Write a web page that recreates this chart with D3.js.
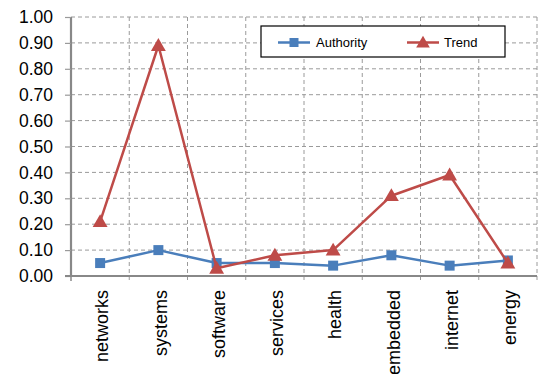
<!DOCTYPE html>
<html>
<head>
<meta charset="utf-8">
<script src="https://cdn.jsdelivr.net/npm/d3@7"></script>
<style>
  html, body { margin: 0; padding: 0; background: #fff; }
  svg { display: block; font-family: "Liberation Sans", Arial, sans-serif; }
</style>
</head>
<body>
<svg id="chart" width="540" height="374"></svg>
<script>
// Keyword categories along the x axis
const categories = ["networks", "systems", "software", "services", "health", "embedded", "internet", "energy"];
// Series values per category
const authority = [0.05, 0.10, 0.05, 0.05, 0.04, 0.08, 0.04, 0.06];
const trend     = [0.21, 0.89, 0.03, 0.08, 0.10, 0.31, 0.39, 0.05];
// Y-axis ticks
const yTicks = [0, 0.1, 0.2, 0.3, 0.4, 0.5, 0.6, 0.7, 0.8, 0.9, 1.0];

const series = [
  { name: "Authority", values: authority, color: "#4a7ebb", marker: "square" },
  { name: "Trend",     values: trend,     color: "#be4b48", marker: "triangle" }
];

const svg = d3.select("#chart");
const margin = { left: 71, right: 3, top: 17, bottom: 98 };
const W = 540, H = 374;

const x = d3.scaleBand().domain(categories).range([margin.left, W - margin.right]).padding(0);
const y = d3.scaleLinear().domain([0, 1]).range([H - margin.bottom, margin.top]);

const gridColor = "#9a9a9a";
const axisColor = "#888888";

// Horizontal dashed gridlines
svg.append("g")
  .selectAll("line")
  .data(yTicks.slice(1))
  .join("line")
  .attr("x1", margin.left).attr("x2", W - margin.right)
  .attr("y1", d => y(d)).attr("y2", d => y(d))
  .attr("stroke", gridColor).attr("stroke-width", 1)
  .attr("stroke-dasharray", "4,3");

// Vertical dashed gridlines at category boundaries
const bounds = categories.map(c => x(c) + x.bandwidth());
svg.append("g")
  .selectAll("line")
  .data(bounds)
  .join("line")
  .attr("x1", d => d).attr("x2", d => d)
  .attr("y1", y(1)).attr("y2", y(0) + 5)
  .attr("stroke", gridColor).attr("stroke-width", 1)
  .attr("stroke-dasharray", "4,3");

// Y axis
const yAxis = d3.axisLeft(y).tickValues(yTicks).tickFormat(d3.format(".2f")).tickSize(6).tickPadding(12);
const gy = svg.append("g").attr("transform", `translate(${margin.left},0)`).call(yAxis);
gy.select(".domain").attr("stroke", axisColor).attr("stroke-width", 2.2).attr("d", `M0,${y(0)}V${y(1)}`);
gy.selectAll(".tick line").attr("stroke", gridColor).attr("stroke-width", 1.2);
gy.selectAll(".tick text").attr("font-size", 17.5).attr("fill", "#000")
  .attr("font-family", "Liberation Sans, Arial, sans-serif");

// X axis with rotated category labels
const xAxis = d3.axisBottom(x).tickSize(0).tickPadding(0);
const gx = svg.append("g").attr("transform", `translate(0,${y(0)})`).call(xAxis);
gx.select(".domain").attr("stroke", axisColor).attr("stroke-width", 2.2)
  .attr("d", `M${margin.left - 6},0H${W - margin.right}`);
gx.selectAll(".tick text")
  .attr("font-size", 18).attr("fill", "#000")
  .attr("font-family", "Liberation Sans, Arial, sans-serif")
  .attr("text-anchor", "end")
  .attr("transform", "translate(2,14) rotate(-90)")
  .attr("x", 0).attr("y", 0).attr("dy", "0.35em");

// Tick at the origin of the x axis
svg.append("line")
  .attr("x1", margin.left).attr("x2", margin.left)
  .attr("y1", y(0)).attr("y2", y(0) + 5)
  .attr("stroke", axisColor).attr("stroke-width", 1.5);

const cx = c => x(c) + x.bandwidth() / 2;

function drawMarker(g, type, color, size) {
  if (type === "square") {
    g.append("rect").attr("x", -size / 2).attr("y", -size / 2)
      .attr("width", size).attr("height", size).attr("fill", color);
  } else {
    const s = size;
    g.append("path")
      .attr("d", `M0,${-s * 0.62}L${s * 0.62},${s * 0.45}L${-s * 0.62},${s * 0.45}Z`)
      .attr("fill", color);
  }
}

const line = d3.line().x((d, i) => cx(categories[i])).y(d => y(d));

series.forEach(s => {
  svg.append("path")
    .datum(s.values)
    .attr("d", line)
    .attr("fill", "none")
    .attr("stroke", s.color)
    .attr("stroke-width", 2.5)
    .attr("stroke-linejoin", "round");
  s.values.forEach((v, i) => {
    const g = svg.append("g").attr("transform", `translate(${cx(categories[i])},${y(v)})`);
    drawMarker(g, s.marker, s.color, s.marker === "square" ? 10 : 12);
  });
});

// Legend
const legend = svg.append("g");
legend.append("rect")
  .attr("x", 261).attr("y", 26).attr("width", 244).attr("height", 31)
  .attr("fill", "#fff").attr("stroke", "#000").attr("stroke-width", 1.2);
const legendItems = [
  { s: series[0], lx: 278, tx: 316 },
  { s: series[1], lx: 407, tx: 444 }
];
legendItems.forEach(it => {
  const ly = 42.5;
  legend.append("line")
    .attr("x1", it.lx).attr("x2", it.lx + 32)
    .attr("y1", ly).attr("y2", ly)
    .attr("stroke", it.s.color).attr("stroke-width", 2.5);
  const g = legend.append("g").attr("transform", `translate(${it.lx + 16},${ly})`);
  drawMarker(g, it.s.marker, it.s.color, it.s.marker === "square" ? 9 : 11);
  legend.append("text")
    .attr("x", it.tx).attr("y", ly).attr("dy", "0.35em")
    .attr("font-size", 13).attr("fill", "#000")
    .text(it.s.name);
});
</script>
</body>
</html>
